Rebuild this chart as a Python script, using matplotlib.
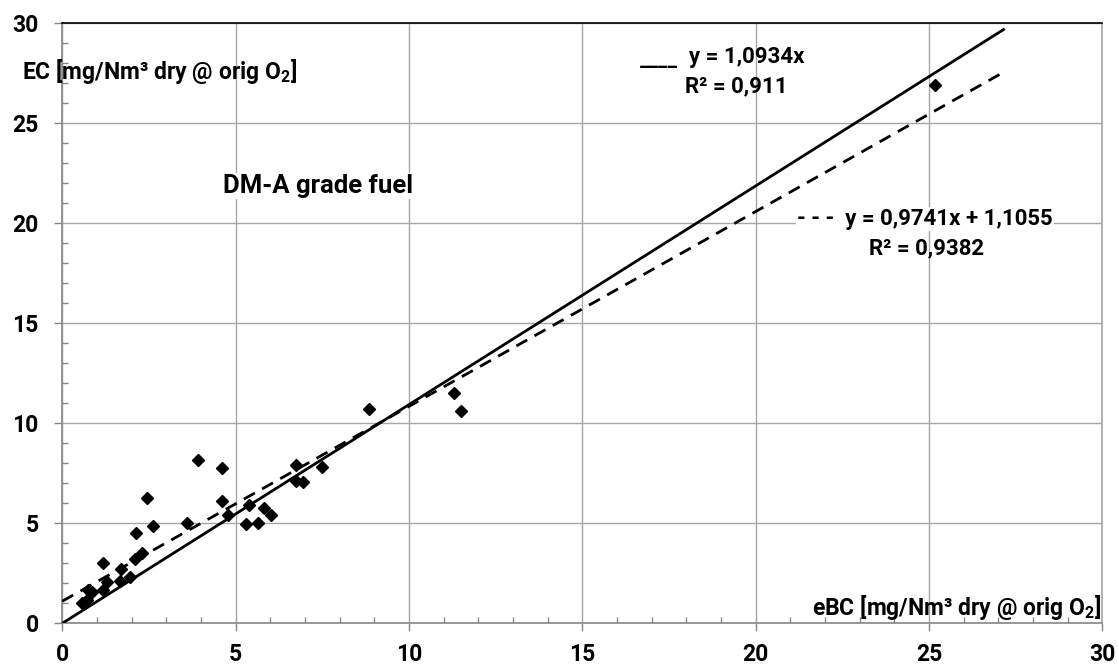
import matplotlib
matplotlib.use("Agg")
import matplotlib.pyplot as plt
import numpy as np
from matplotlib.ticker import MultipleLocator

# ---- data ----
ebc = [0.58, 0.70, 0.73, 0.85, 1.18, 1.18, 1.28, 1.65, 1.69, 1.95, 2.10, 2.13,
       2.29, 2.43, 2.61, 3.60, 3.92, 4.60, 4.60, 4.79, 5.30, 5.39, 5.65, 5.83,
       6.01, 6.74, 6.74, 6.93, 7.50, 8.85, 11.30, 11.51, 25.17]
ec = [1.03, 1.17, 1.67, 1.58, 3.00, 1.67, 2.08, 2.13, 2.70, 2.33, 3.21, 4.50,
      3.50, 6.25, 4.88, 5.03, 8.15, 7.77, 6.12, 5.43, 4.97, 5.92, 5.03, 5.78,
      5.43, 7.92, 7.10, 7.08, 7.80, 10.71, 11.53, 10.62, 26.90]
fit_origin_slope = 1.0934
fit_lin_slope = 0.9741
fit_lin_icpt = 1.1055
fit_xrange = [0.0, 27.15]
xticks = [0, 5, 10, 15, 20, 25, 30]
yticks = [0, 5, 10, 15, 20, 25, 30]

FONT = 'Roboto'
plt.rcParams['font.family'] = [FONT, 'DejaVu Sans']
plt.rcParams['font.weight'] = 'bold'
plt.rcParams['mathtext.fontset'] = 'custom'
plt.rcParams['mathtext.rm'] = FONT + ':bold'
plt.rcParams['mathtext.bf'] = FONT + ':bold'
plt.rcParams['mathtext.it'] = FONT + ':bold'

W, H = 1118, 665
fig = plt.figure(figsize=(W / 100, H / 100), dpi=100)
ax = fig.add_axes([62.3 / W, 1 - 623.3 / H, 1040 / W, 600 / H])

grid_c = '#a6a6a6'
axis_c = '#868686'

ax.set_xlim(0, 30)
ax.set_ylim(0, 30)
ax.set_xticks(xticks)
ax.set_yticks(yticks)
ax.xaxis.set_minor_locator(MultipleLocator(1))
ax.yaxis.set_minor_locator(MultipleLocator(1))
ax.grid(True, which='major', color=grid_c, linewidth=1.0)
ax.set_axisbelow(True)

ax.tick_params(which='major', direction='out', length=6, width=1, color=axis_c,
               labelsize=16.5)
ax.tick_params(axis='x', which='major', pad=8)
ax.tick_params(axis='y', which='major', pad=11)
ax.tick_params(which='minor', direction='in', length=4, width=1, color=axis_c)
for lab in ax.get_xticklabels() + ax.get_yticklabels():
    lab.set_fontweight('bold')

ax.spines['left'].set_color(axis_c)
ax.spines['bottom'].set_color(axis_c)
ax.spines['right'].set_color(grid_c)
ax.spines['top'].set_color('black')
for s in ax.spines.values():
    s.set_linewidth(1.2)

xf = np.array(fit_xrange)
ax.plot(xf, fit_origin_slope * xf, color='black', linewidth=2.0, zorder=3)
ax.plot(xf, fit_lin_slope * xf + fit_lin_icpt, color='black', linewidth=2.0,
        linestyle=(0, (4.5, 3)), zorder=3)
ax.plot(ebc, ec, linestyle='none', marker='D', markersize=6.5,
        color='black', zorder=4)

def ftext(px, py, s, size, ha='left', bg=False):
    kw = dict(fontsize=size, fontweight='bold', ha=ha, va='center')
    if bg:
        kw['bbox'] = dict(facecolor='white', edgecolor='none', pad=1)
    fig.text(px / W, 1 - py / H, s, **kw)

ftext(22, 71, 'EC [mg/Nm³ dry @ orig O$_2$]', 16.5)
ftext(1101, 607, 'eBC [mg/Nm³ dry @ orig O$_2$]', 16.5, ha='right')
ftext(223, 186, 'DM-A grade fuel', 18.5, bg=True)
ftext(640, 60, '____', 15)
ftext(689, 57, 'y = 1,0934x', 16)
ftext(685, 86, 'R² = 0,911', 16)
ftext(797, 219, '- - -  y = 0,9741x + 1,1055', 16, bg=True)
ftext(869, 248, 'R² = 0,9382', 16)

fig.savefig('out.png', dpi=100)
